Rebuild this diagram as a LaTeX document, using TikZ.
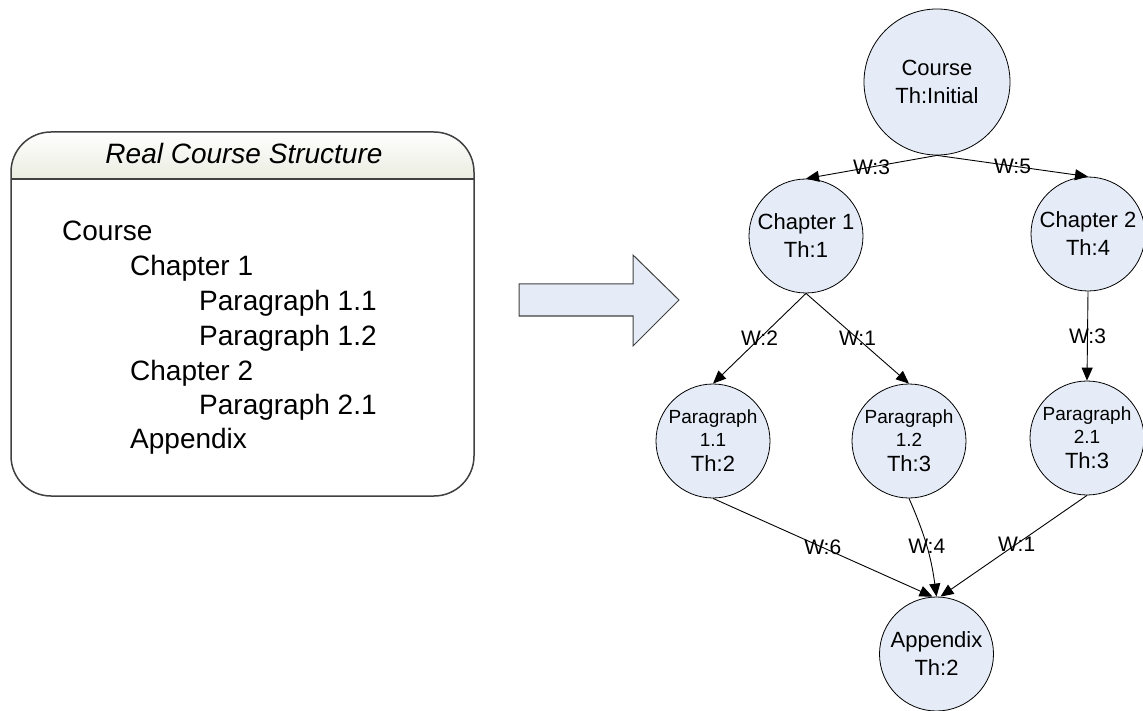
\documentclass[tikz,border=0pt]{standalone}
\usepackage{fontspec}
\setmainfont{Liberation Sans}
\usetikzlibrary{arrows.meta}
\definecolor{nodefill}{HTML}{E5ECF7}
\definecolor{hdrfill}{HTML}{EAECE0}
\definecolor{boxline}{HTML}{404040}
\newcommand{\myfs}[1]{\fontsize{#1}{#1}\selectfont}
\tikzset{
  circ/.style={circle, draw=black, line width=0.8pt, fill=nodefill, inner sep=0pt,
    minimum size=114pt, align=center, font=\fontsize{22}{28}\selectfont},
  edge/.style={line width=0.9pt, -{Triangle[length=13pt,width=11pt]}},
  wlab/.style={font=\fontsize{21}{21}\selectfont, inner sep=0pt},
  tree/.style={anchor=base west, font=\fontsize{28}{34}\selectfont, inner sep=0pt},
}
\begin{document}
\begin{tikzpicture}[x=1pt,y=-1pt]
\useasboundingbox (0,0) rectangle (1143,711);
% left box
\begin{scope}
\clip[rounded corners=40pt] (11,132) rectangle (474,496);
\fill[top color=white, bottom color=hdrfill] (11,132) rectangle (474,179);
\end{scope}
\draw[boxline, line width=1.5pt, rounded corners=40pt] (11,132) rectangle (474,496);
\draw[boxline, line width=1.2pt] (11,179) -- (474,179);
\node[anchor=base, inner sep=0pt, font=\fontsize{28}{34}\selectfont\itshape] (title) at (244,164) {Real Course Structure};
\node[tree] (t1) at (62,241) {Course};
\node[tree] (t2) at (130,276) {Chapter 1};
\node[tree] (t3) at (199,311) {Paragraph 1.1};
\node[tree] (t4) at (199,345) {Paragraph 1.2};
\node[tree] (t5) at (130,380) {Chapter 2};
\node[tree] (t6) at (199,414) {Paragraph 2.1};
\node[tree] (t7) at (130,448) {Appendix};
% big arrow
\draw[boxline, line width=1pt, fill=nodefill, line join=miter]
  (519,284) -- (633,284) -- (633,255) -- (679,300) -- (633,346) -- (633,316) -- (519,316) -- cycle;
% graph
\node[circ, minimum size=146pt] (course) at (937,82) {Course\\Th:Initial};
\node[circ] (ch1) at (806,236) {Chapter 1\\Th:1};
\node[circ] (ch2) at (1088,234) {Chapter 2\\Th:4};
\node[circ] (p11) at (713,441) {{\myfs{19}Paragraph}\\[-5pt]{\myfs{19}1.1}\\[-3pt]Th:2};
\node[circ] (p12) at (909,441) {{\myfs{19}Paragraph}\\[-5pt]{\myfs{19}1.2}\\[-3pt]Th:3};
\node[circ] (p21) at (1087,438) {{\myfs{19}Paragraph}\\[-5pt]{\myfs{19}2.1}\\[-3pt]Th:3};
\node[circ] (app) at (936.5,654) {Appendix\\Th:2};
\draw[edge] (course.south) -- node[wlab]{W:3} (ch1.north);
\draw[edge] (course.south) -- node[wlab]{W:5} (ch2.north);
\draw[edge] (ch1.south) -- node[wlab]{W:2} (p11.north);
\draw[edge] (ch1.south) -- node[wlab]{W:1} (p12.north);
\draw[edge] (ch2.south) -- node[wlab]{W:3} (p21.north);
\draw[edge] (p11.south) -- node[wlab]{W:6} ([xshift=-4pt]app.north);
\draw[edge] (p12.south) to[bend left=8] node[wlab]{W:4} (app.north);
\draw[edge] (p21.south) -- node[wlab, pos=0.48]{W:1} ([xshift=4pt]app.north);
\end{tikzpicture}
\end{document}
